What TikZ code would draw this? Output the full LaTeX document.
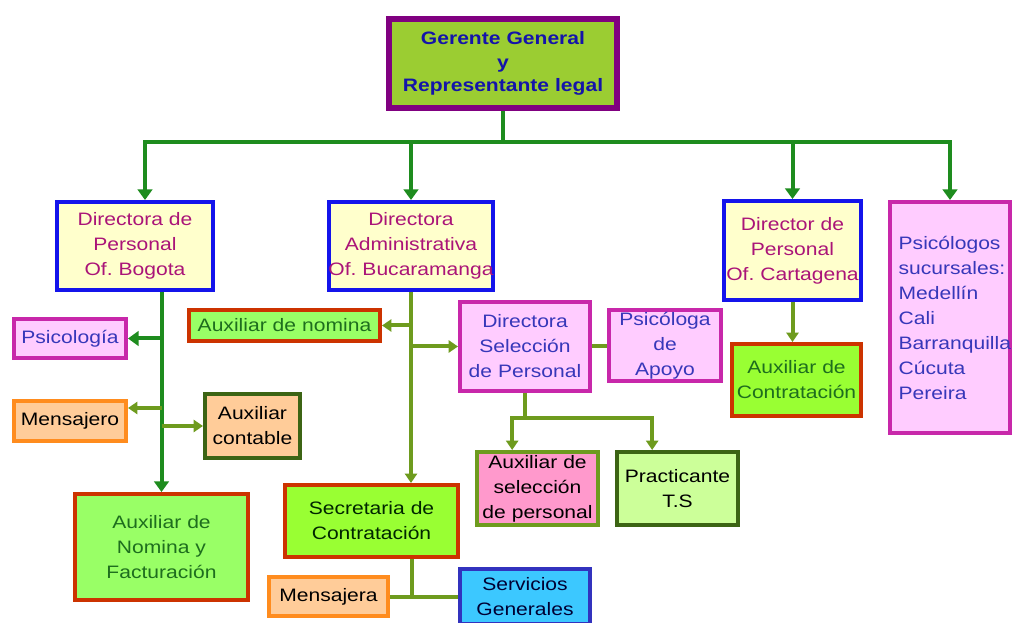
\documentclass[tikz,border=0pt]{standalone}
\usepackage{fontspec}
\setmainfont[FakeStretch=1.17]{Liberation Sans}
\usetikzlibrary{arrows.meta,positioning}
\definecolor{ggreen}{RGB}{30,140,30}
\definecolor{olivo}{RGB}{110,155,30}
\definecolor{gpurple}{RGB}{128,0,128}
\definecolor{ygreen}{RGB}{155,205,50}
\definecolor{gblue}{RGB}{20,20,170}
\definecolor{bborde}{RGB}{20,20,235}
\definecolor{crema}{RGB}{255,255,204}
\definecolor{magtext}{RGB}{170,20,120}
\definecolor{rosa}{RGB}{255,204,255}
\definecolor{magborde}{RGB}{200,40,170}
\definecolor{azultext}{RGB}{55,55,185}
\definecolor{verde}{RGB}{153,255,102}
\definecolor{verdelima}{RGB}{153,255,51}
\definecolor{rojo}{RGB}{204,51,0}
\definecolor{vtext}{RGB}{30,110,30}
\definecolor{naranja}{RGB}{255,140,30}
\definecolor{durazno}{RGB}{255,204,153}
\definecolor{vosc}{RGB}{60,100,20}
\definecolor{rosafuerte}{RGB}{255,153,204}
\definecolor{verdeclaro}{RGB}{204,255,153}
\definecolor{celeste}{RGB}{60,200,255}
\definecolor{azulborde}{RGB}{50,50,190}

\begin{document}
\begin{tikzpicture}[x=0.75pt, y=-0.75pt,
    box/.style={rectangle, draw, line width=3pt, align=center, inner xsep=0pt, inner ysep=1pt,
      font=\fontsize{13.5}{18.75}\selectfont},
    gline/.style={line width=3pt, ggreen},
    arr/.style={-{Triangle[length=8pt,width=11pt]}, line width=3pt, ggreen},
    oline/.style={line width=3pt, olivo},
    oarr/.style={-{Triangle[length=7pt,width=9pt]}, line width=3pt, olivo}
  ]
  \fill[white] (0,0) rectangle (1013,623);
  \useasboundingbox (0,0) rectangle (1013,623);

  \node[box, draw=gpurple, line width=4.5pt, fill=ygreen, text=gblue, text width=171pt, minimum height=66.75pt,
    font=\fontsize{13.5}{17.6}\selectfont\bfseries] (ger) at (503,63.5) {Gerente General\\y\\Representante legal};

  % directores
  \node[box, draw=bborde, fill=crema, text=magtext, text width=117pt, minimum height=66pt]    (bog) at (135,246)   {Directora de\\Personal\\Of.\ Bogota};
  \node[box, draw=bborde, fill=crema, text=magtext, text width=123pt, minimum height=66pt]    (buc) at (411,246)   {Directora\\Administrativa\\\makebox[123pt][c]{Of.\ Bucaramanga}};
  \node[box, draw=bborde, fill=crema, text=magtext, text width=102.75pt, minimum height=74.25pt] (car) at (792.5,250.5) {Director de\\Personal\\\makebox[102.75pt][c]{Of.\ Cartagena}};
  \node[box, draw=magborde, fill=rosa, text=azultext, align=left, inner xsep=6.5pt, text width=77pt, minimum height=173.25pt]
    (psi) at (950,317.5) {Psicólogos\\sucursales:\\Medellín\\Cali\\Barranquilla\\Cúcuta\\Pereira};

  % Bogota
  \node[box, draw=magborde, fill=rosa, text=azultext, text width=84pt, minimum height=29.25pt] (psico) at (70,338.5) {Psicología};
  \node[box, draw=naranja, fill=durazno, text=black, text width=84pt, minimum height=30pt]     (mens)  at (70,421)    {Mensajero};
  \node[box, draw=vosc, fill=durazno, text=black, text width=71.25pt, minimum height=48pt]     (auxc)  at (252.5,426) {Auxiliar\\contable};
  \node[box, draw=rojo, fill=verde, text=vtext, text width=129.75pt, minimum height=79.5pt]    (auxnf) at (161.5,547) {Auxiliar de\\Nomina y\\Facturación};

  % Bucaramanga
  \node[box, draw=rojo, fill=verde, text=vtext, text width=143.25pt, minimum height=23.25pt]   (auxn)  at (284.5,325.5) {Auxiliar de nomina};
  \node[box, draw=magborde, fill=rosa, text=azultext, text width=97.5pt, minimum height=66.75pt] (sel) at (525,346.5)  {Directora\\Selección\\de Personal};
  \node[box, draw=magborde, fill=rosa, text=azultext, text width=84pt, minimum height=53.25pt]  (apo)   at (665,345.5)  {Psicóloga\\de\\Apoyo};
  \node[box, draw=olivo, fill=rosafuerte, text=black, text width=90.75pt, minimum height=54.75pt] (auxs) at (537.5,488.5) {Auxiliar de\\selección\\de personal};
  \node[box, draw=vosc, fill=verdeclaro, text=black, text width=90.75pt, minimum height=54.75pt] (prac) at (677.5,488.5) {Practicante\\T.S};
  \node[box, draw=rojo, fill=verdelima, text=black!85!green, text width=129.75pt, minimum height=54pt] (sec) at (371.5,521) {Secretaria de\\Contratación};
  \node[box, draw=naranja, fill=durazno, text=black, text width=89.25pt, minimum height=29.25pt] (mensa) at (328.5,596.5) {Mensajera};
  \node[box, draw=azulborde, fill=celeste, text=black!80!blue, text width=97.5pt, minimum height=41.25pt] (serv) at (525,596.5) {Servicios\\Generales};

  % Cartagena
  \node[box, draw=rojo, fill=verdelima, text=vtext, text width=96.75pt, minimum height=54pt]   (auxcon) at (796.5,380) {Auxiliar de\\Contratación};

  \coordinate (bus) at (503,142);
  \coordinate (bogin) at ([xshift=7.5pt]bog.north);
  \coordinate (mensin) at ([yshift=9.75pt]mens.east);
  \coordinate (selfork) at (528,418);
  \coordinate (auxsin) at ([xshift=-19pt]auxs.north);
  \coordinate (pracin) at ([xshift=-19pt]prac.north);
  \coordinate (secout) at ([xshift=30pt]sec.south);

  \draw[gline] (ger.south) -- (ger.south |- bus);
  \draw[gline, line cap=rect] (bogin |- bus) -- (psi.north |- bus);
  \draw[arr] (bogin |- bus) -- (bogin);
  \draw[arr] (buc.north |- bus) -- (buc.north);
  \draw[arr] (car.north |- bus) -- (car.north);
  \draw[arr] (psi.north |- bus) -- (psi.north);

  \draw[arr] (bog.south -| auxnf.north) -- (auxnf.north);
  \draw[arr] (psico.east -| auxnf.north) -- (psico.east);
  \draw[oarr] (mensin -| auxnf.north) -- (mensin);
  \draw[oarr] (auxc.west -| auxnf.north) -- (auxc.west);

  \draw[oarr] (buc.south) -- (buc.south |- sec.north);
  \draw[oarr] (buc.south |- auxn.east) -- (auxn.east);
  \draw[oarr] (buc.south |- sel.west) -- (sel.west);
  \draw[oline] (sel.east) -- (sel.east -| apo.west);
  \draw[oline] (sel.south) -- (sel.south |- selfork);
  \draw[oarr] (sel.south |- selfork) -| (auxsin);
  \draw[oarr] (sel.south |- selfork) -| (pracin);
  \draw[oline] (secout) -- (secout |- mensa.east);
  \draw[oline] (mensa.east) -- (serv.west);

  \draw[oarr] (car.south) -- (car.south |- auxcon.north);
\end{tikzpicture}
\end{document}
